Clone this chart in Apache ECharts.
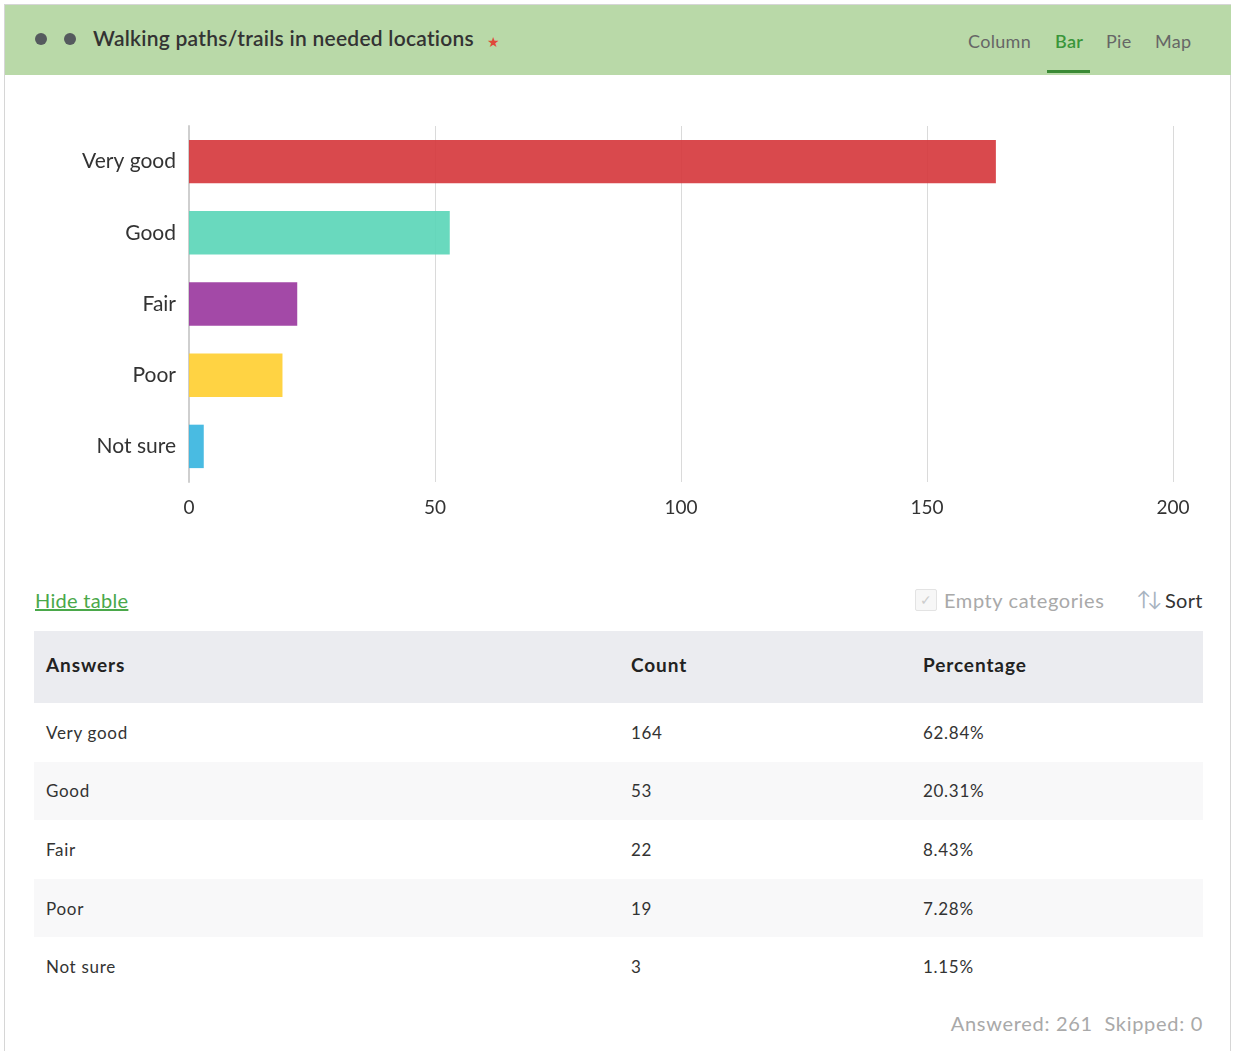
<!DOCTYPE html>
<html>
<head>
<meta charset="utf-8">
<script src="https://cdn.jsdelivr.net/npm/echarts@6/dist/echarts.min.js"></script>
<style>
  html, body { margin:0; padding:0; background:#fff; width:1233px; height:1051px; overflow:hidden; font-family: Lato, "Open Sans", sans-serif; }
  .frame { position:absolute; left:4px; top:4px; width:1227px; height:1060px; border:1px solid #d6d6d6; border-bottom:none; box-sizing:border-box; }
  .header { position:absolute; left:5px; top:5px; width:1226px; height:70px; background:#b9d9a8; }
  .dot { position:absolute; width:12px; height:12px; border-radius:6px; background:#555a5e; top:28px; }
  .title { position:absolute; left:93px; top:25px; font-size:21px; color:#333; font-weight:600; letter-spacing:0.25px; }
  .star { color:#e0493a; font-size:14px; position:absolute; left:487px; top:33px; }
  .tab { position:absolute; top:30px; font-size:18px; color:#666; letter-spacing:0.3px; }
  .tab.active { color:#3a963a; font-weight:600; }
  .uline { position:absolute; left:1047px; top:70px; width:43px; height:3px; background:#3a8a35; }
  #chart { position:absolute; left:0; top:76px; width:1233px; height:470px; }
  .hide { position:absolute; left:35px; top:588px; font-size:20px; color:#4aa84a; text-decoration:underline; letter-spacing:0.3px; }
  .chk { position:absolute; left:915px; top:589px; width:20px; height:20px; border:1px solid #e3e3e3; border-radius:2px; background:#f7f7f7; color:#ccc; font-size:14px; text-align:center; line-height:20px; }
  .empty { position:absolute; left:944px; top:588px; font-size:20px; color:#a9a9a9; letter-spacing:0.6px; }
  .sorticon { position:absolute; left:1136px; top:586px; font-size:20px; color:#a8b3bf; letter-spacing:-4px; }
  .sort { position:absolute; left:1165px; top:588px; font-size:20px; color:#333; letter-spacing:0.3px; }
  table { position:absolute; left:34px; top:631px; width:1169px; border-collapse:collapse; font-size:17px; color:#333; letter-spacing:0.7px; table-layout:fixed; }
  th { background:#ebecf0; height:72px; text-align:left; font-size:19px; font-weight:700; color:#222; padding:0 0 0 12px; letter-spacing:0.9px; box-sizing:border-box; }
  th span { position:relative; top:-3px; }
  td { height:58.6px; padding:0 0 0 12px; }
  tr.alt td { background:#f8f8f9; }
  .foot { position:absolute; right:30px; top:1011px; font-size:20px; color:#a9a9a9; letter-spacing:0.7px; }
</style>
</head>
<body>
<div class="frame"></div>
<div class="header">
  <div class="dot" style="left:30px"></div>
  <div class="dot" style="left:59px"></div>
</div>
<div class="title">Walking paths/trails in needed locations</div>
<div class="star">&#9733;</div>
<div class="tab" style="left:968px">Column</div>
<div class="tab active" style="left:1055px">Bar</div>
<div class="tab" style="left:1106px">Pie</div>
<div class="tab" style="left:1155px">Map</div>
<div class="uline"></div>
<div id="chart"></div>
<div class="hide">Hide table</div>
<div class="chk">&#10003;</div>
<div class="empty">Empty categories</div>
<div class="sorticon">&#8593;&#8595;</div>
<div class="sort">Sort</div>
<table id="tbl"><colgroup><col style="width:585px"><col style="width:292px"><col></colgroup></table>
<div class="foot">Answered: 261&nbsp; Skipped: 0</div>
<script>
const categories = ["Very good", "Good", "Fair", "Poor", "Not sure"];
const counts = [164, 53, 22, 19, 3];
const percentages = ["62.84%", "20.31%", "8.43%", "7.28%", "1.15%"];
const barColors = ["#d63a3e", "#5cd6b8", "#9b3a9f", "#ffcf33", "#3ab5e0"];
const xTicks = [0, 50, 100, 150, 200];
const answered = 261, skipped = 0;

const tbl = document.getElementById('tbl');
let html = '<tr><th><span>Answers</span></th><th><span>Count</span></th><th><span>Percentage</span></th></tr>';
categories.forEach((c, i) => {
  html += '<tr class="' + (i % 2 === 1 ? 'alt' : '') + '"><td>' + c + '</td><td>' + counts[i] + '</td><td>' + percentages[i] + '</td></tr>';
});
tbl.insertAdjacentHTML('beforeend', html);

const chart = echarts.init(document.getElementById('chart'));
chart.setOption({
  animation: false,
  grid: { left: 189, right: 60, top: 50, height: 356 },
  xAxis: {
    type: 'value', min: xTicks[0], max: xTicks[xTicks.length - 1], interval: 50,
    axisLine: { show: false }, axisTick: { show: false },
    splitLine: { show: true, lineStyle: { color: '#dadada', width: 1 } },
    axisLabel: { fontSize: 19, color: '#333', margin: 16, fontFamily: 'Lato' }
  },
  yAxis: {
    type: 'category', data: categories, inverse: true,
    axisLine: { show: true, lineStyle: { color: '#cfcfcf', width: 2 } },
    axisTick: { show: false },
    axisLabel: { fontSize: 21, color: '#333', margin: 13, fontFamily: 'Lato' }
  },
  series: [{
    type: 'bar', z: 1,
    data: counts.map((v, i) => ({ value: v, itemStyle: { color: barColors[i], opacity: 0.92 } })),
    barCategoryGap: '39%'
  }]
});
</script>
</body>
</html>
